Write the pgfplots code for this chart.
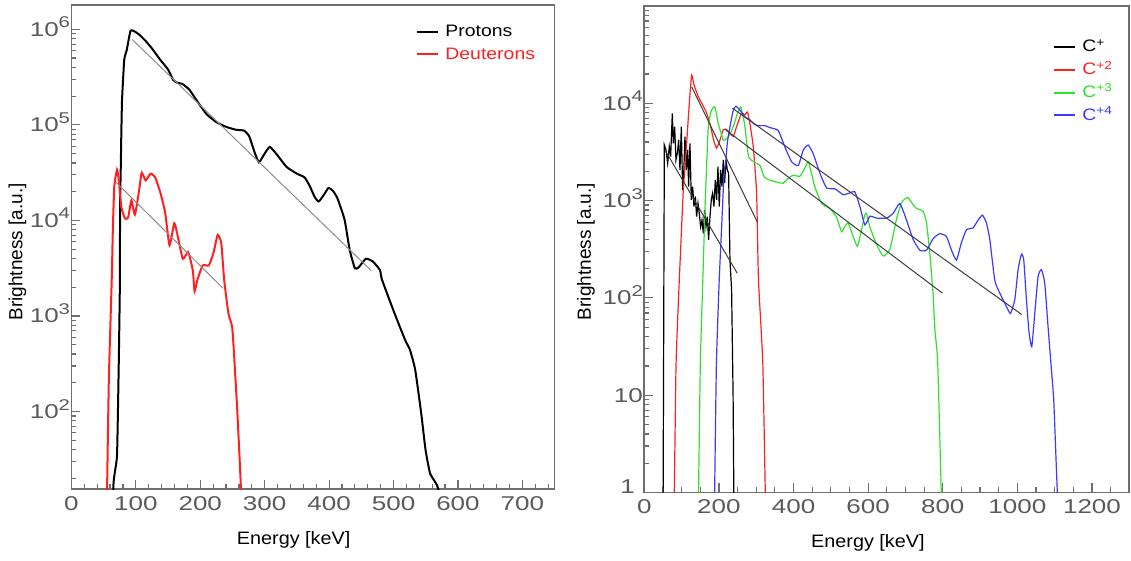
\documentclass[border=0pt]{standalone}
\usepackage{fontspec}
\setmainfont{Liberation Sans}
\newfontfamily\tickfont[FakeStretch=1.3]{Liberation Sans}
\newfontfamily\labelfont[FakeStretch=1.1]{Liberation Sans}
\newfontfamily\legfont[FakeStretch=1.17]{Liberation Sans}
\usepackage{pgfplots}
\pgfplotsset{compat=1.18}

\definecolor{framegray}{HTML}{6E6E6E}
\definecolor{ticktext}{HTML}{5A5A5A}
\definecolor{fitgray}{HTML}{8C8C8C}
\definecolor{fitdark}{HTML}{3C3C3C}
\definecolor{cred}{HTML}{FF2020}
\definecolor{cgreen}{HTML}{30E030}
\definecolor{cblue}{HTML}{3A3AFF}

% ROOT-style exponent label: 10 with a raised, smashed exponent
\newcommand{\tenpow}[1]{10\smash{\raisebox{4.2pt}{\fontsize{7.8}{9}\selectfont #1}}}
% legend key: a short horizontal line in a fixed colour
\newcommand{\keyline}[2]{\addlegendimage{legend image code/.code={\draw[#1, line width=#2] (0pt,0pt) -- (10.75pt,0pt);}}}

\pgfplotsset{
  every axis/.append style={
    scale only axis,
    axis line style={framegray, line width=0.9pt},
    tick style={framegray, line width=0.6pt},
    major tick length=4.5pt,
    minor tick length=2.5pt,
    tick align=inside,
    tick pos=left,
    ticklabel style={font=\tickfont\fontsize{10}{12}\selectfont, text=ticktext},
    yticklabel style={inner sep=0pt, xshift=-0.5pt},
    /pgf/number format/assume math mode=true,
    /pgf/number format/1000 sep={},
    xlabel style={font=\labelfont\fontsize{9}{11}\selectfont, anchor=center},
    ylabel style={font=\fontsize{9.5}{11}\selectfont, anchor=center},
    legend cell align=left,
    legend style={draw=none, fill=none, inner sep=0pt, outer sep=0pt,
      font=\legfont\fontsize{8.3}{10}\selectfont, column sep=2pt,
      nodes={inner sep=1pt, text height=7pt, text depth=2.2pt}},
  },
}

\begin{document}
\begin{tikzpicture}
\useasboundingbox (0,0) rectangle (565.5pt,280.5pt);

% ---------------- left panel: protons / deuterons ----------------
\begin{axis}[
    ymode=log,
    at={(35.7pt,35.85pt)}, anchor=south west,
    width=241.6pt, height=242.3pt,
    xmin=0, xmax=750, ymin=15.4, ymax=1.81e6,
    xtick={0,100,...,700},
    minor xtick={0,20,...,740},
    ytick={1e2,1e3,1e4,1e5,1e6},
    yticklabels={\tenpow{2},\tenpow{3},\tenpow{4},\tenpow{5},\tenpow{6}},
    minor ytick={20,30,40,50,60,70,80,90,200,300,400,500,600,700,800,900,
      2e3,3e3,4e3,5e3,6e3,7e3,8e3,9e3,2e4,3e4,4e4,5e4,6e4,7e4,8e4,9e4,
      2e5,3e5,4e5,5e5,6e5,7e5,8e5,9e5},
    xlabel={Energy [keV]},
    ylabel={Brightness [a.u.]},
    xlabel style={at={([yshift=-25.35pt]axis description cs:0.46,0)}},
    ylabel style={at={([xshift=-26.95pt]axis description cs:0,0.49)}},
    legend style={at={(axis description cs:0.713,0.967)}, anchor=north west, row sep=0pt},
]
\keyline{black}{1pt}
\addlegendentry{Protons}
\keyline{cred}{1pt}
\addlegendentry{\textcolor{cred}{Deuterons}}
\addplot[black, line width=1pt, smooth, tension=0.3, forget plot] coordinates {
 (62,1) (65.0,15.5) (67.5,23.4) (70.9,36.3) (73.6,347) (75.3,2400) (75.5,13800)
 (76.5,31600) (77.5,81300) (78.6,182000) (82.0,479000) (85.8,603000)
 (91.9,966000) (100,933000) (106,871000) (115,759000) (125,631000)
 (138,479000) (150,380000) (158,295000) (165,275000) (172,269000)
 (183,234000) (195,178000) (210,129000) (225,107000) (240,95500)
 (255,89100) (268,87100) (276,75900) (284,52500) (291,40700) (300,50100)
 (308,58900) (320,47900) (334,36300) (350,30900) (362,28200) (370,22900)
 (378,17400) (384,15800) (392,18600) (399,21900) (406,20400) (413,17000)
 (424,10200) (432,4900) (440,3160) (446,3240) (457,3980) (468,3720)
 (479,3020) (482.1,2400) (501.5,1070) (518,562) (525.3,447) (533.6,275)
 (543,95.5) (549.7,39.8) (556.9,22.4) (569.6,15.5) (575,5)
};
\addplot[cred, line width=1pt, smooth, tension=0.3, forget plot] coordinates {
 (53,1) (55.4,15.5) (58.1,214) (62.6,2400) (64.2,7410) (66.5,22400)
 (70.8,33900) (73.6,26300) (77.5,13800) (83.1,10500) (88,10700)
 (93.1,16200) (98.6,11500) (105.2,20900) (109.1,31600) (115.2,26300)
 (123,30900) (130.2,28200) (138.5,19100) (145.6,12000) (152.3,5500)
 (159.6,9330) (164,7410) (172.9,3980) (181.2,4680) (188.4,3020)
 (191.2,1820) (195.6,2400) (203.9,3390) (213.3,3390) (220.5,4570)
 (227.1,7080) (232.7,5750) (237.1,2400) (243.7,1070) (249.4,776)
 (252,447) (257.7,95.5) (263.2,15.5) (265,5)
};
\addplot[fitgray, line width=0.5pt, forget plot] coordinates {(94.1,786000) (465.5,2985)};
\addplot[fitgray, line width=0.5pt, forget plot] coordinates {(69.2,25100) (235.5,1950)};
\end{axis}

% ---------------- right panel: carbon ions ----------------
\begin{axis}[
    ymode=log,
    at={(322.15pt,34.25pt)}, anchor=south west,
    width=242.5pt, height=243.4pt,
    xmin=0, xmax=1300, ymin=1, ymax=1.007e5,
    xtick={0,200,...,1200},
    minor xtick={50,100,150,250,300,350,450,500,550,650,700,750,850,900,950,1050,1100,1150,1250},
    ytick={10,100,1000,10000},
    yticklabels={10,\tenpow{2},\tenpow{3},\tenpow{4}},
    extra y ticks={1},
    extra y tick labels={1},
    extra y tick style={yticklabel style={yshift=3pt, xshift=-4pt}},
    minor ytick={2,3,4,5,6,7,8,9,20,30,40,50,60,70,80,90,200,300,400,500,600,700,800,900,
      2e3,3e3,4e3,5e3,6e3,7e3,8e3,9e3,2e4,3e4,4e4,5e4,6e4,7e4,8e4,9e4},
    xlabel={Energy [keV]},
    ylabel={Brightness [a.u.]},
    xlabel style={at={([yshift=-25.35pt]axis description cs:0.461,0)}},
    ylabel style={at={([xshift=-29.15pt]axis description cs:0,0.495)}},
    legend style={at={(axis description cs:0.8425,0.938)}, anchor=north west, row sep=0.2pt},
]
\keyline{black}{1pt}
\addlegendentry{C\textsuperscript{+}}
\keyline{cred}{1pt}
\addlegendentry{\textcolor{cred}{C\textsuperscript{+2}}}
\keyline{cgreen}{1pt}
\addlegendentry{\textcolor{cgreen}{C\textsuperscript{+3}}}
\keyline{cblue}{1pt}
\addlegendentry{\textcolor{cblue}{C\textsuperscript{+4}}}
\addplot[black, line width=0.6pt, forget plot] coordinates {
 (50,0.3) (53.7,3730) (58.1,3310) (62.6,2420) (67.0,3590) (70.6,2830)
 (75.1,7890) (77.8,3880) (81.3,5750) (84.9,2620) (88.5,3060) (92.1,4200)
 (95.6,2070) (99.2,5750) (102.8,1290) (105.4,1760) (109.0,4540)
 (112.6,2070) (116.2,3310) (118.8,1390) (122.4,3880) (126.0,1020)
 (129.6,1390) (133.1,867) (136.7,1100) (140.3,684) (143.9,938) (147.4,740)
 (151.0,540) (154.6,632) (158.1,461) (161.7,802) (165.3,540) (168.8,684)
 (172.4,394) (176.0,684) (179.6,1020) (183.1,1190) (186.7,867)
 (190.3,1630) (193.9,1020) (197.4,2230) (201.0,867) (204.6,2070)
 (208.2,1390) (211.7,2620) (215.3,1510) (218.9,2620) (222.4,2070)
 (226.0,1910) (229.6,245) (234.0,120) (238,10) (241,0.3)
};
\addplot[cred, line width=0.6pt, smooth, tension=0.3, forget plot] coordinates {
 (78,0.5) (80.4,1) (85.2,21.4) (93.8,153) (100.1,537) (104.6,1290)
 (113.5,3890) (120.6,10000) (126.9,19500) (133.1,15500) (144.7,11700)
 (158.1,9330) (167.0,7940) (175.9,6170) (186.7,4070) (193.8,3470)
 (202.7,4170) (211.7,5370) (220.6,5370) (229.6,4900) (238.5,4570)
 (247.4,5750) (260.8,7940) (269.7,7590) (276.5,8130) (283.1,6170)
 (292.1,3550) (301.0,1200) (306,155) (317.6,21.4) (324.3,1) (326,0.5)
};
\addplot[cgreen, line width=0.6pt, smooth, tension=0.3, forget plot] coordinates {
 (144,0.5) (145.4,1) (150.2,21.4) (156.9,155) (162.6,794) (167.0,2240)
 (171.5,5750) (177.8,7940) (183,8910) (188.5,9230) (193,7940) (198.3,6170)
 (204.6,5130) (211.7,4170) (222,4370) (232,5010) (242,6310) (250,7940)
 (258.3,9120) (264,7590) (269.8,5750) (279.4,2820) (293.7,2510)
 (309.9,2290) (322,1740) (336.7,1620) (355,1550) (372.5,1510) (386,1700)
 (399.2,1820) (417.1,1780) (430,2140) (439.4,2510) (448,1910) (457.3,1380)
 (475.1,933) (487,871) (497.4,832) (515.3,676) (528.7,479) (537,537)
 (546.5,589) (559.9,427) (571.5,339) (582.2,501) (590,692) (595.6,741)
 (604.6,537) (622.4,355) (640.3,269) (658.2,316) (676.0,646) (689.4,955)
 (700,1050) (707.3,1070) (720,912) (729.6,832) (747.5,776) (756.4,589)
 (765.3,288) (774.3,105) (778.7,47.9) (786.5,21.4) (796,1) (798,0.5)
};
\addplot[cblue, line width=0.6pt, smooth, tension=0.3, forget plot] coordinates {
 (187,0.5) (188.5,1) (193.3,21.4) (200.9,155) (207.3,537) (213.5,1780)
 (218.9,2630) (222.4,3890) (229.6,5750) (238.5,8510) (245.6,9330)
 (256.3,8510) (269.7,7240) (283.1,6760) (296.5,6030) (309.9,5890)
 (323.3,5890) (336.7,5620) (359.0,5250) (376.9,3550) (394.8,2510)
 (412.7,2290) (426.1,3310) (439.4,3720) (452.8,3020) (470.7,1910)
 (488.5,1350) (510.9,1320) (533.2,1150) (551.0,1200) (564.4,1230)
 (577.8,871) (591.2,562) (604.6,692) (622.4,661) (649.2,661) (667.1,741)
 (685.0,933) (702.8,631) (720.7,398) (738.6,309) (756.4,309) (774.3,407)
 (792.1,457) (810.0,427) (823.4,309) (836.8,245) (850.2,372) (863.6,501)
 (881.4,525) (894.8,631) (906.4,708) (917.1,589) (926.1,398) (939.5,151)
 (952.9,112) (970.7,81.3) (981.4,69.2) (993.0,95.5) (1001.9,195)
 (1010.9,282) (1017.1,245) (1024.3,95.5) (1031.4,43.7) (1038.6,31.6)
 (1046.6,69.2) (1055.5,166) (1064.5,195) (1073.4,141) (1082.3,50.1)
 (1091.3,18.2) (1097.5,8.9) (1104,2) (1107,1) (1109,0.5)
};
\addplot[fitdark, line width=0.5pt, forget plot] coordinates {(55.4,3310) (249.2,179)};
\addplot[fitdark, line width=0.5pt, forget plot] coordinates {(126.9,14800) (302.8,603)};
\addplot[fitdark, line width=0.5pt, forget plot] coordinates {(217,5370) (799,112)};
\addplot[fitdark, line width=0.5pt, forget plot] coordinates {(236.3,8910) (1011.3,67.6)};
\end{axis}
\end{tikzpicture}
\end{document}
